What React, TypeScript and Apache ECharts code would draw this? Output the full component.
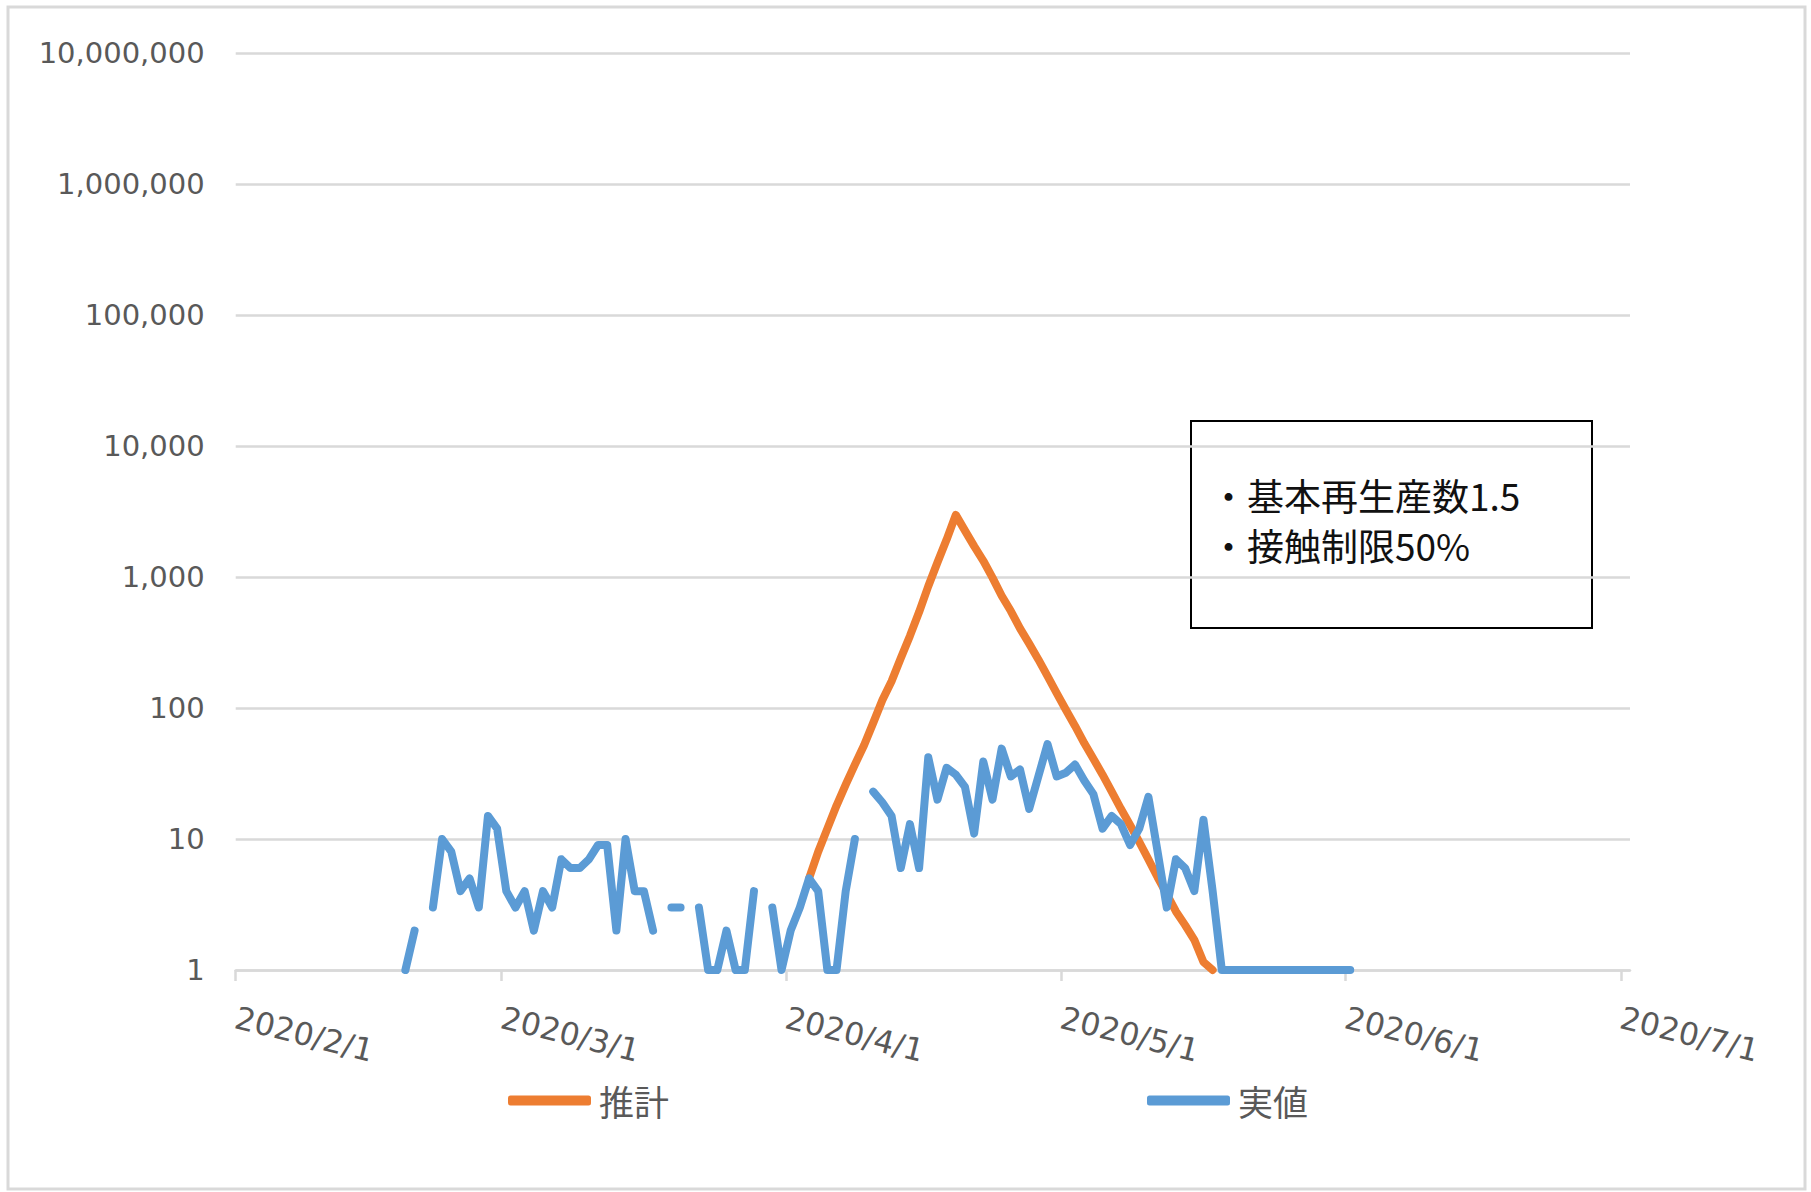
import React, { useEffect, useRef } from "react";
import * as echarts from "echarts";

// ---- data ----
const axisStartDate = "2020/2/1";
const axisEndDate = "2020/7/2";
const xTickLabels = ["2020/2/1", "2020/3/1", "2020/4/1", "2020/5/1", "2020/6/1", "2020/7/1"];
const yTickValues = [1, 10, 100, 1000, 10000, 100000, 1000000, 10000000];

const seriesNames = ["推計", "実値"];

// 推計 (estimate), daily from 2020/4/3
const estimateStart = "2020/4/3";
const estimateValues = [
  5, 8, 12, 18, 26, 37, 52, 77, 115, 160, 240, 355, 540, 850, 1290, 1930, 2980,
  2260, 1720, 1330, 990, 720, 550, 405, 310, 235, 175, 130, 97, 73, 54, 41, 31,
  23, 17, 12.8, 9.5, 7, 5.1, 3.8, 2.8, 2.2, 1.7, 1.15, 1,
];

// 実値 (actual), daily from 2020/2/19 (null = no plotted value)
const actualStart = "2020/2/19";
const actualValues: (number | null)[] = [
  1, 2, null, 3, 10, 8, 4, 5, 3, 15, 12, 4, 3, 4, 2, 4, 3, 7, 6, 6, 7, 9, 9, 2, 10, 4, 4, 2,
  null, 3, 3, null, 3, 1, 1, 2, 1, 1, 4, null, 3, 1, 2, 3, 5, 4, 1, 1, 4, 10, null,
  23, 19, 15, 6, 13, 6, 42, 20, 35, 31, 25, 11, 39, 20, 49, 30, 34, 17, 30, 53, 30, 32,
  37, 28, 22, 12, 15, 13, 9, 12, 21, 8, 3, 7, 6, 4, 14, 4,
  1, 1, 1, 1, 1, 1, 1, 1, 1, 1, 1, 1, 1, 1, 1,
];

const noteLines = ["・基本再生産数1.5", "・接触制限50%"];

// ---- helpers ----
const DAY_MS = 86400000;
const parseDate = (s: string) => {
  const [y, m, d] = s.split("/").map(Number);
  return Date.UTC(y, m - 1, d);
};
const dayIndex = (s: string) => Math.round((parseDate(s) - parseDate(axisStartDate)) / DAY_MS);
const formatThousands = (v: number) =>
  String(Math.round(v)).replace(/\B(?=(\d{3})+(?!\d))/g, ",");

// Excel "between tick marks": each day's point sits in the middle of its day
const toPoints = (start: string, values: (number | null)[]) =>
  values.map((v, i) => [dayIndex(start) + i + 0.5, v]);

const ORANGE = "#ED7D31";
const BLUE = "#5B9BD5";
const GRID_GRAY = "#D9D9D9";
const LABEL_GRAY = "#595959";
const NUM_FONT = "'DejaVu Sans', 'Noto Sans CJK JP', sans-serif";
const JP_FONT = "'Noto Sans CJK JP', sans-serif";

export default function App() {
  const ref = useRef<HTMLDivElement>(null);

  useEffect(() => {
    if (!ref.current) return;
    const chart = echarts.init(ref.current, undefined, { renderer: "svg" });
    const tickDays = xTickLabels.map(dayIndex);
    const labelByDay: Record<number, string> = {};
    tickDays.forEach((d, i) => (labelByDay[d] = xTickLabels[i]));

    const lineBase = {
      type: "line",
      showSymbol: false,
      symbol: "none",
      connectNulls: false,
      clip: false,
      smooth: false,
    };

    const option: any = {
      animation: false,
      backgroundColor: "#ffffff",
      grid: {
        left: 235.7,
        top: 53,
        width: 1394.3,
        height: 917,
        containLabel: false,
        outerBoundsMode: "none",
      },
      xAxis: {
        type: "value",
        min: dayIndex(axisStartDate),
        max: dayIndex(axisEndDate),
        axisLine: { show: true, lineStyle: { color: GRID_GRAY, width: 2.5 } },
        axisTick: {
          show: true,
          length: 11,
          customValues: tickDays,
          lineStyle: { color: GRID_GRAY, width: 2.5 },
        },
        axisLabel: {
          show: true,
          customValues: tickDays,
          formatter: (v: number) => labelByDay[Math.round(v)] ?? "",
          rotate: -14,
          margin: 47,
          color: LABEL_GRAY,
          fontSize: 31.5,
          fontFamily: NUM_FONT,
        },
        splitLine: { show: false },
      },
      yAxis: {
        type: "log",
        logBase: 10,
        min: yTickValues[0],
        max: yTickValues[yTickValues.length - 1],
        splitNumber: yTickValues.length - 1,
        axisLine: { show: false },
        axisTick: { show: false },
        axisLabel: {
          margin: 31,
          color: LABEL_GRAY,
          fontSize: 29,
          fontFamily: NUM_FONT,
          formatter: (v: number) => formatThousands(v),
        },
        splitLine: { show: true, lineStyle: { color: GRID_GRAY, width: 2.5 } },
      },
      legend: [
        {
          data: [{ name: seriesNames[0], icon: "roundRect" }],
          left: 503,
          top: 1078,
          itemWidth: 83,
          itemHeight: 10,
          textStyle: { color: LABEL_GRAY, fontSize: 35, fontFamily: JP_FONT, padding: [0, 0, 0, 3] },
        },
        {
          data: [{ name: seriesNames[1], icon: "roundRect" }],
          left: 1142,
          top: 1078,
          itemWidth: 83,
          itemHeight: 10,
          textStyle: { color: LABEL_GRAY, fontSize: 35, fontFamily: JP_FONT, padding: [0, 0, 0, 3] },
        },
      ],
      series: [
        {
          ...lineBase,
          name: seriesNames[0],
          data: toPoints(estimateStart, estimateValues),
          color: ORANGE,
          itemStyle: { color: ORANGE },
          lineStyle: { color: ORANGE, width: 8, cap: "round", join: "round" },
          z: 2,
        },
        {
          ...lineBase,
          name: seriesNames[1],
          data: toPoints(actualStart, actualValues),
          color: BLUE,
          itemStyle: { color: BLUE },
          lineStyle: { color: BLUE, width: 8, cap: "round", join: "round" },
          z: 3,
        },
      ],
      graphic: [
        {
          type: "rect",
          z: -10,
          silent: true,
          shape: { x: 8, y: 7, width: 1797, height: 1182 },
          style: { fill: "none", stroke: GRID_GRAY, lineWidth: 3 },
        },
        {
          type: "group",
          z: 100,
          children: [
            {
              type: "rect",
              shape: { x: 1191, y: 421, width: 401, height: 207 },
              style: { fill: "#ffffff", stroke: "#000000", lineWidth: 2 },
            },
            ...noteLines.map((t, i) => ({
              type: "text",
              x: 1210,
              y: 495 + i * 50,
              style: {
                text: t,
                fill: "#111111",
                font: `37px ${JP_FONT}`,
                verticalAlign: "middle",
                align: "left",
              },
            })),
          ],
        },
      ],
    };

    chart.setOption(option);
    return () => chart.dispose();
  }, []);

  return (
    <div
      ref={ref}
      style={{ position: "absolute", left: 0, top: 0, width: 1811, height: 1192 }}
    />
  );
}
